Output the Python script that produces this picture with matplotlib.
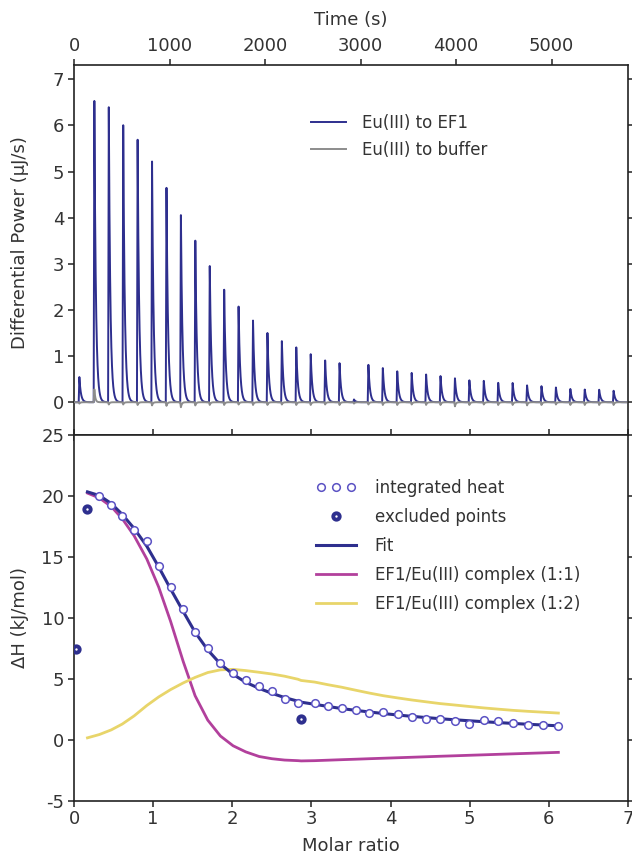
import numpy as np
import matplotlib
matplotlib.use("Agg")
import matplotlib.pyplot as plt
from matplotlib.legend_handler import HandlerLine2D

plt.rcParams["font.family"] = ["DejaVu Sans"]
plt.rcParams["axes.unicode_minus"] = False

NAVY = "#2e2f8e"
CIRCLE = "#5b52c4"
MAGENTA = "#b2409c"
YELLOW = "#e8d56a"
GREY = "#8c8c8c"
TEXT = "#333333"

# injection apex times (s) and peak heights (uJ/s)
inj_time = [56, 213, 364, 515, 666, 817, 968, 1119, 1270, 1421, 1572, 1723, 1874,
            2025, 2176, 2327, 2478, 2629, 2780, 2931, 3082, 3233, 3384, 3535, 3686,
            3837, 3988, 4139, 4290, 4441, 4592, 4743, 4894, 5045, 5196, 5347, 5498, 5649]
peak_ef1 = [0.55, 6.55, 6.46, 6.11, 5.70, 5.25, 4.71, 4.10, 3.51, 2.98, 2.48, 2.08, 1.78,
            1.52, 1.34, 1.19, 1.05, 0.92, 0.85, 0.06, 0.82, 0.75, 0.67, 0.64, 0.61,
            0.57, 0.52, 0.48, 0.47, 0.42, 0.42, 0.37, 0.35, 0.32, 0.29, 0.28, 0.27, 0.25]
peak_buffer = [-0.03, 0.28, -0.05, -0.05, -0.06, -0.07, -0.08, -0.11, -0.07, -0.06, -0.06,
               -0.05, -0.06, -0.06, -0.05, -0.06, -0.06, -0.05, -0.06, -0.03, -0.05,
               -0.06, -0.06, -0.05, -0.06, -0.06, -0.09, -0.06, -0.05, -0.06, -0.06,
               -0.07, -0.06, -0.05, -0.06, -0.06, -0.06, -0.06]

# molar ratio after each injection and integrated heats (kJ/mol)
molar_ratio = [0.02, 0.17, 0.32, 0.47, 0.61, 0.76, 0.92, 1.07, 1.22, 1.38, 1.53, 1.69,
               1.85, 2.01, 2.17, 2.34, 2.50, 2.66, 2.83, 2.87, 3.04, 3.21, 3.38, 3.56,
               3.73, 3.91, 4.09, 4.27, 4.45, 4.62, 4.81, 4.99, 5.18, 5.36, 5.55, 5.74,
               5.93, 6.12]
dH = [7.4, 18.9, 20.0, 19.24, 18.29, 17.17, 16.27, 14.22, 12.48, 10.68, 8.86, 7.49,
      6.32, 5.50, 4.85, 4.41, 3.97, 3.35, 2.99, 1.69, 3.02, 2.75, 2.59, 2.45,
      2.20, 2.26, 2.07, 1.88, 1.69, 1.69, 1.52, 1.31, 1.58, 1.50, 1.36, 1.22,
      1.22, 1.09]
excluded = [0, 1, 19]

# model curves, evaluated from the second injection on
fit_dH = [20.3, 20.0, 19.35, 18.45, 17.3, 15.85, 14.15, 12.35, 10.5, 8.8, 7.35,
          6.2, 5.35, 4.7, 4.2, 3.8, 3.45, 3.15, 3.07, 2.9, 2.72, 2.55, 2.4,
          2.27, 2.14, 2.02, 1.91, 1.81, 1.72, 1.63, 1.55, 1.47, 1.4, 1.33, 1.26,
          1.2, 1.13]
complex_11 = [20.2, 19.8, 19.1, 18.1, 16.7, 14.8, 12.5, 9.7, 6.4, 3.6, 1.6,
              0.3, -0.5, -1.0, -1.38, -1.56, -1.67, -1.72, -1.74, -1.72, -1.68, -1.64, -1.60,
              -1.56, -1.52, -1.48, -1.44, -1.40, -1.36, -1.32, -1.28, -1.24, -1.20, -1.16, -1.12,
              -1.08, -1.04]
complex_12 = [0.15, 0.42, 0.8, 1.28, 1.95, 2.8, 3.5, 4.1, 4.65, 5.1, 5.5,
              5.72, 5.76, 5.66, 5.52, 5.38, 5.2, 4.95, 4.85, 4.72, 4.5, 4.3, 4.05,
              3.82, 3.6, 3.42, 3.25, 3.1, 2.96, 2.84, 2.72, 2.6, 2.5, 2.4, 2.32,
              2.25, 2.18]


def trace(t, times, heights, rise=7.0, tau=16.0):
    y = np.zeros_like(t)
    for t0, h in zip(times, heights):
        dt = t - t0
        shape = np.where(dt < 0, np.clip(1 + dt / rise, 0, 1), np.exp(-dt / tau))
        y += h * shape
    return y


def style_axes(ax):
    for s in ax.spines.values():
        s.set_linewidth(1.2)
        s.set_color("#222222")
    ax.tick_params(direction="out", length=4.5, width=1.1, pad=2.5, colors="#222222",
                   labelcolor=TEXT, labelsize=13, top=True, right=True)


fig = plt.figure(figsize=(6.32, 8.56), dpi=100)
left, width = 0.1171, 0.8766
ax1 = fig.add_axes([left, 0.4924, width, 0.4317])
ax2 = fig.add_axes([left, 0.0646, width, 0.4278])

# thermogram
t = np.linspace(0, 5780, 14000)
ax1.plot(t, trace(t, inj_time, peak_ef1), color=NAVY, lw=1.4, label="Eu(III) to EF1", zorder=2)
ax1.plot(t, trace(t, inj_time, peak_buffer, tau=10.0), color=GREY, lw=1.4,
         label="Eu(III) to buffer", zorder=3)
ax1.set_xlim(0, 5800)
ax1.set_ylim(-0.70, 7.31)
ax1.set_yticks(range(0, 8))
ax1.set_xticks(range(0, 6000, 1000))
style_axes(ax1)
ax1.tick_params(labeltop=True, labelbottom=False)
ax1.xaxis.set_label_position("top")
ax1.set_xlabel("Time (s)", fontsize=13, color=TEXT, labelpad=9)
ax1.set_ylabel("Differential Power (\u03bcJ/s)", fontsize=13, color=TEXT)
ax1.yaxis.set_label_coords(-0.081, 0.52)
ax1.legend(loc="upper left", bbox_to_anchor=(0.416, 0.886), frameon=False, fontsize=12,
           handlelength=2.1, handletextpad=0.95, labelspacing=0.55, borderaxespad=0,
           labelcolor=TEXT)

# binding isotherm
keep = [i for i in range(len(molar_ratio)) if i not in excluded]
h_pts, = ax2.plot([molar_ratio[i] for i in keep], [dH[i] for i in keep], "o", ls="none",
                  ms=5.5, mfc="white", mec=CIRCLE, mew=1.1, zorder=4, label="integrated heat")
h_exc, = ax2.plot([molar_ratio[i] for i in excluded], [dH[i] for i in excluded], "o",
                  ls="none", ms=4.6, mfc="white", mec=NAVY, mew=2.8, zorder=4,
                  label="excluded points")
h_fit, = ax2.plot(molar_ratio[1:], fit_dH, color=NAVY, lw=2.2, zorder=3, label="Fit")
h_11, = ax2.plot(molar_ratio[1:], complex_11, color=MAGENTA, lw=2.0, zorder=2,
                 label="EF1/Eu(III) complex (1:1)")
h_12, = ax2.plot(molar_ratio[1:], complex_12, color=YELLOW, lw=2.0, zorder=2,
                 label="EF1/Eu(III) complex (1:2)")
ax2.set_xlim(0, 7)
ax2.set_ylim(-5, 25)
ax2.set_yticks(range(-5, 30, 5))
ax2.set_xticks(range(0, 8))
style_axes(ax2)
ax2.set_xlabel("Molar ratio", fontsize=13, color=TEXT, labelpad=6)
ax2.set_ylabel("\u0394H (kJ/mol)", fontsize=13, color=TEXT)
ax2.yaxis.set_label_coords(-0.081, 0.5)
ax2.legend(handles=[h_pts, h_exc, h_fit, h_11, h_12], loc="upper left",
           bbox_to_anchor=(0.424, 0.896), frameon=False, fontsize=12,
           handlelength=2.45, handletextpad=1.1, labelspacing=0.66, borderaxespad=0,
           labelcolor=TEXT,
           handler_map={h_pts: HandlerLine2D(numpoints=3), h_exc: HandlerLine2D(numpoints=1)})

fig.savefig("out.png", dpi=100)
